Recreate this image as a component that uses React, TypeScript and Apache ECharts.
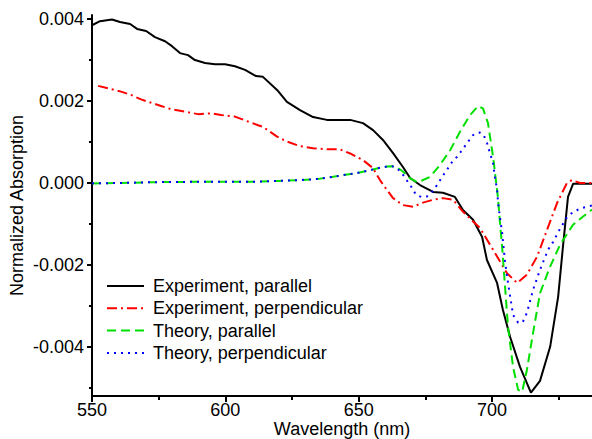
import React, { useEffect, useRef } from "react";
import * as echarts from "echarts";

// Experiment, parallel
const expParWl = [550, 553, 557.5, 560.5, 564.3, 566.9, 570.3, 573.6, 577.4, 580, 583, 586, 588.6, 592.4, 596.1, 599.9, 603.6, 607.4, 611.5, 614.1, 619.4, 623.1, 628, 632.9, 638.1, 643, 646.8, 651.6, 655.4, 659.1, 662.9, 666.6, 669.3, 673, 677.9, 681.6, 686.1, 689.1, 692.9, 696.3, 698.1, 701.9, 704.1, 706.8, 710.5, 714.6, 718, 721.8, 724.8, 726.6, 728.5, 730.4, 737.5];
const expParVal = [0.00385, 0.00395, 0.00399, 0.00393, 0.00388, 0.00376, 0.00371, 0.00356, 0.00346, 0.00334, 0.00317, 0.00312, 0.003, 0.00293, 0.0029, 0.0029, 0.00285, 0.00276, 0.00261, 0.00259, 0.00227, 0.00198, 0.00178, 0.00161, 0.00154, 0.00154, 0.00154, 0.00146, 0.00129, 0.00105, 0.00073, 0.00039, 0.00012, -0.00005, -0.00022, -0.00024, -0.00034, -0.00066, -0.0009, -0.00132, -0.00188, -0.00244, -0.0031, -0.00376, -0.00449, -0.00512, -0.00483, -0.004, -0.00278, -0.00156, -0.00034, -0.00002, -0.00002];

// Experiment, perpendicular
const expPerpWl = [552.3, 556, 560.9, 564.6, 568.4, 572.1, 575.9, 579.6, 584.9, 589.8, 594.6, 598.4, 603.6, 608.5, 612.3, 614.1, 619.4, 623.1, 628, 632.9, 638.1, 643, 646.8, 651.6, 655.4, 658, 660.6, 662.9, 666.6, 670.4, 674.1, 677.9, 681.6, 685.4, 689.1, 695.5, 700.4, 705.6, 709.4, 713.1, 716.9, 720.6, 724.4, 728.1, 730, 733, 737.5];
const expPerpVal = [0.00237, 0.00231, 0.00223, 0.00215, 0.00204, 0.00196, 0.00188, 0.0018, 0.00174, 0.00168, 0.0017, 0.00166, 0.00162, 0.0015, 0.00141, 0.00137, 0.00113, 0.00101, 0.0009, 0.00085, 0.00082, 0.00082, 0.00072, 0.00056, 0.00036, 0.00007, -0.00017, -0.00037, -0.00054, -0.00058, -0.00048, -0.00041, -0.00037, -0.00041, -0.0007, -0.0011, -0.00163, -0.0022, -0.00244, -0.00224, -0.0018, -0.00115, -0.00049, 0.0, 0.00007, 0.0, 0.0];

// Theory, parallel
const thParWl = [550, 560, 575, 590, 600, 610, 620, 628, 635, 640.4, 645, 649.4, 652, 655.4, 658, 660.6, 662.5, 664.4, 666.6, 669.3, 671.9, 673, 676.8, 680.5, 684.3, 688, 691.8, 694.8, 696.6, 698.5, 700.4, 701.9, 702.3, 703, 703.8, 704.9, 706, 707.9, 709.8, 711.3, 713.1, 715.4, 718, 721.8, 725.5, 730.4, 733, 737.5];
const thParVal = [-0.00001, 0.0, 0.00002, 0.00003, 0.00003, 0.00003, 0.00005, 0.00007, 0.0001, 0.00015, 0.0002, 0.00024, 0.00028, 0.00033, 0.00037, 0.0004, 0.00041, 0.00038, 0.00028, 0.00011, 0.00002, 0.00004, 0.00015, 0.00044, 0.0008, 0.00125, 0.00166, 0.00188, 0.00182, 0.00146, 0.00064, -0.00017, -0.00041, -0.00098, -0.00156, -0.00254, -0.00351, -0.00449, -0.00505, -0.0051, -0.00456, -0.00366, -0.00269, -0.00204, -0.00151, -0.00102, -0.00088, -0.00065];

// Theory, perpendicular
const thPerpWl = [550, 560, 575, 590, 600, 610, 620, 628, 635, 640.4, 645, 649.4, 652, 655.4, 658, 660.6, 662.5, 664.4, 666.6, 668.5, 670, 671.5, 673.5, 675.6, 677.5, 679.4, 681.3, 683.1, 684.9, 686.9, 688.8, 690.6, 692.9, 694.5, 695.5, 696.8, 698.1, 699.3, 700.4, 701.1, 701.9, 702.3, 703, 703.8, 704.9, 706, 707.9, 709.8, 711.5, 713.1, 715.4, 718, 721, 722.9, 725.5, 728, 730.5, 733.8, 737.5];
const thPerpVal = [-0.00001, 0.0, 0.00002, 0.00003, 0.00003, 0.00003, 0.00005, 0.00007, 0.0001, 0.00015, 0.0002, 0.00024, 0.00028, 0.00033, 0.00037, 0.0004, 0.00041, 0.00036, 0.0002, 0.00002, -0.00012, -0.00029, -0.00034, -0.00033, -0.00022, -0.00005, 0.00015, 0.00032, 0.0005, 0.00064, 0.0008, 0.00097, 0.00117, 0.00122, 0.00123, 0.00118, 0.00098, 0.00072, 0.00048, 0.00015, -0.00017, -0.00049, -0.00085, -0.00122, -0.00193, -0.00244, -0.00322, -0.00341, -0.0034, -0.00317, -0.00261, -0.00212, -0.00163, -0.00144, -0.00112, -0.00085, -0.0007, -0.00061, -0.00055];

const seriesNames = ["Experiment, parallel", "Experiment, perpendicular", "Theory, parallel", "Theory, perpendicular"];
const xMajorTicks = [550, 600, 650, 700];
const xMinorTicks = [575, 625, 675, 725];
const yMajorTicks = [-0.004, -0.002, 0, 0.002, 0.004];
const yMinorTicks = [-0.005, -0.003, -0.001, 0.001, 0.003];

const zip = (xs: number[], ys: number[]) => xs.map((x, i) => [x, ys[i]]);

export default function App() {
  const ref = useRef<HTMLDivElement>(null);
  useEffect(() => {
    const chart = echarts.init(ref.current!, null, { renderer: "svg" });
    const font = "Liberation Sans";
    const axisCol = "#000";
    const xMin = 550, xMax = 737.5, yMin = -0.0052, yMax = 0.0041;
    const mkLine = (name: string, data: number[][], color: string, type: any) => ({
      name,
      type: "line",
      data,
      showSymbol: false,
      symbol: "none",
      xAxisIndex: 0,
      yAxisIndex: 0,
      lineStyle: { color, width: 2, type },
      itemStyle: { color },
    });
    chart.setOption({
      animation: false,
      grid: { left: 92, top: 15, right: 0, bottom: 43, containLabel: false, outerBoundsMode: "none" },
      xAxis: [
        {
          type: "value",
          min: xMin,
          max: xMax,
          name: "Wavelength (nm)",
          nameLocation: "middle",
          nameGap: 25.5,
          nameMoveOverlap: false,
          nameTextStyle: { fontFamily: font, fontSize: 18, color: "#000", verticalAlign: "top", lineHeight: 15 },
          axisLine: { show: true, onZero: false, lineStyle: { color: axisCol, width: 2 } },
          axisTick: { show: true, customValues: xMajorTicks, length: 6, inside: false, lineStyle: { color: axisCol, width: 2 } },
          axisLabel: { customValues: xMajorTicks, fontFamily: font, fontSize: 18, color: "#000", margin: 7, lineHeight: 14 },
          splitLine: { show: false },
        },
        {
          type: "value",
          min: xMin,
          max: xMax,
          position: "bottom",
          axisLine: { show: false, onZero: false },
          axisTick: { show: true, customValues: xMinorTicks, length: 4, lineStyle: { color: axisCol, width: 2 } },
          axisLabel: { show: false },
          splitLine: { show: false },
        },
      ],
      yAxis: [
        {
          type: "value",
          min: yMin,
          max: yMax,
          name: "Normalized Absorption",
          nameLocation: "middle",
          nameGap: 66,
          nameMoveOverlap: false,
          nameTextStyle: { fontFamily: font, fontSize: 18, color: "#000" },
          axisLine: { show: true, onZero: false, lineStyle: { color: axisCol, width: 2 } },
          axisTick: { show: true, customValues: yMajorTicks, length: 5, lineStyle: { color: axisCol, width: 2 } },
          axisLabel: {
            customValues: yMajorTicks,
            fontFamily: font,
            fontSize: 18,
            color: "#000",
            margin: 8,
            formatter: (v: number) => (Math.abs(v) < 1e-12 ? "0.000" : v.toFixed(3)),
          },
          splitLine: { show: false },
        },
        {
          type: "value",
          min: yMin,
          max: yMax,
          position: "left",
          axisLine: { show: false, onZero: false },
          axisTick: { show: true, customValues: yMinorTicks, length: 3, lineStyle: { color: axisCol, width: 2 } },
          axisLabel: { show: false },
          splitLine: { show: false },
        },
      ],
      legend: {
        orient: "vertical",
        left: 101,
        top: 272,
        itemWidth: 37,
        itemHeight: 14,
        itemGap: 4.3,
        data: seriesNames,
        itemStyle: { opacity: 0 },
        textStyle: { fontFamily: font, fontSize: 18, color: "#000", padding: [0, 0, 0, 4], lineHeight: 18 },
      },
      series: [
        mkLine(seriesNames[0], zip(expParWl, expParVal), "#000000", "solid"),
        mkLine(seriesNames[1], zip(expPerpWl, expPerpVal), "#ff0000", [10, 4, 2, 4]),
        mkLine(seriesNames[2], zip(thParWl, thParVal), "#00e000", [9, 5]),
        mkLine(seriesNames[3], zip(thPerpWl, thPerpVal), "#0000ff", [2, 5]),
      ],
    });
    return () => chart.dispose();
  }, []);
  return <div ref={ref} style={{ position: "absolute", left: 0, top: 0, width: 592, height: 439 }} />;
}
